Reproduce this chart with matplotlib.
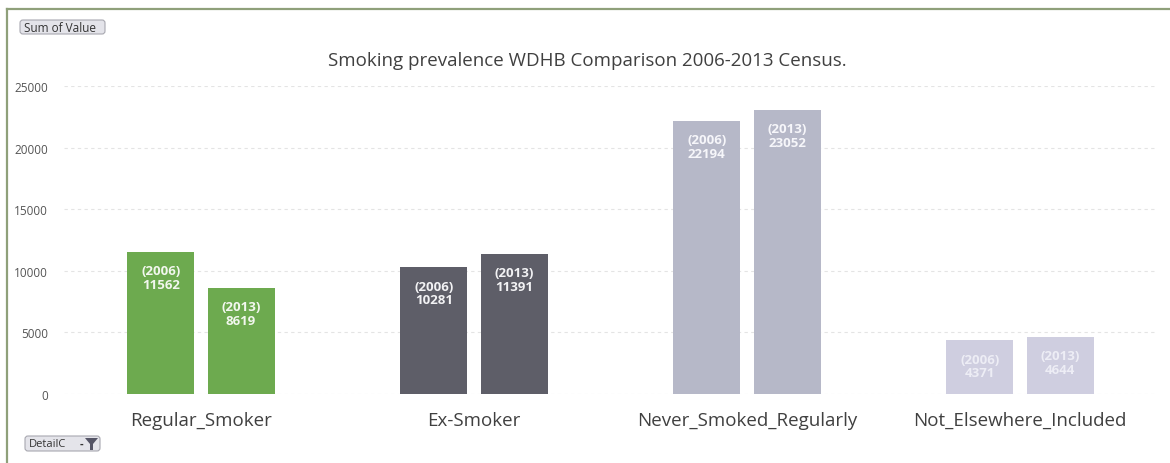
import matplotlib.pyplot as plt
import numpy as np
from matplotlib.patches import Polygon, FancyBboxPatch
from matplotlib.lines import Line2D

plt.rcParams['font.family'] = ['Open Sans', 'DejaVu Sans']

categories = ["Regular_Smoker", "Ex-Smoker", "Never_Smoked_Regularly", "Not_Elsewhere_Included"]
years = ["2006", "2013"]
values_2006 = [11562, 10281, 22194, 4371]
values_2013 = [8619, 11391, 23052, 4644]
bar_colors = ["#6DAA4F", "#5E5E68", "#B6B8C8", "#CFCEE0"]
label_colors = ["#F2F7EE", "#F2F2F4", "#F6F6FA", "#EDEDF5"]

W, H = 1170, 464
fig = plt.figure(figsize=(W / 100, H / 100), dpi=100)
ax = fig.add_axes([0.0551, 0.1487, 0.9334, 0.6638])

x = np.arange(len(categories))
width = 0.245
offset = 0.147

for xi, v06, v13, col, lc in zip(x, values_2006, values_2013, bar_colors, label_colors):
    for dx, val, yr in ((-offset, v06, years[0]), (offset, v13, years[1])):
        ax.bar(xi + dx, val, width=width, color=col, zorder=2)
        ax.annotate(f"({yr})\n{val}", (xi + dx, val), xytext=(0, -9),
                    textcoords='offset points', ha='center', va='top',
                    color=lc, fontsize=9.5, fontweight='bold', linespacing=1.05, zorder=3)

ax.set_xlim(-0.5, len(categories) - 0.5)
ax.set_ylim(0, 25000)
ax.set_yticks(np.arange(0, 25001, 5000))
ax.set_xticks(x)
ax.set_xticklabels(categories, fontsize=13.5, color="#404040")
ax.tick_params(axis='x', length=0, pad=12)
ax.tick_params(axis='y', length=0, pad=12, labelsize=8.5, labelcolor="#555555")
ax.yaxis.grid(True, color="#E4E4E4", linestyle=(0, (3, 3)), linewidth=0.8, zorder=0)
for s in ax.spines.values():
    s.set_visible(False)

fig.text(0.502, 0.868, "Smoking prevalence WDHB Comparison 2006-2013 Census.",
         ha='center', va='center', fontsize=13.5, color="#404040")

# chart frame (top and left edges)
fig.add_artist(Line2D([0.006, 1.0], [0.978, 0.978], color="#8FA07A", lw=1.6))
fig.add_artist(Line2D([0.006, 0.006], [0.0, 0.978], color="#8FA07A", lw=1.6))


def px(xp, yp):
    return xp / W, 1 - yp / H


def button(x0, y0, x1, y1):
    (fx0, fy1), (fx1, fy0) = px(x0, y0), px(x1, y1)
    fig.add_artist(FancyBboxPatch((fx0, fy0), fx1 - fx0, fy1 - fy0,
                                  boxstyle="round,pad=0,rounding_size=0.0025",
                                  transform=fig.transFigure, fc="#E4E4EA",
                                  ec="#A8A8B0", lw=0.8, mutation_aspect=W / H))


# field buttons
button(20, 21, 105, 35)
fig.text(*px(24, 28), "Sum of Value", fontsize=8.5, color="#333333", va='center')
button(25, 437, 100, 452)
fig.text(*px(29, 444.5), "DetailC", fontsize=8, color="#333333", va='center')
fig.text(*px(81, 444), "-", fontsize=8, color="#333333", va='center', ha='center',
         fontweight='bold')
fig.add_artist(Polygon([px(85, 439), px(98, 439), px(93, 445), px(93, 451),
                        px(90, 451), px(90, 445)], closed=True,
                       transform=fig.transFigure, fc="#555566", ec="none"))

fig.savefig("out.png", dpi=100, facecolor="white")
